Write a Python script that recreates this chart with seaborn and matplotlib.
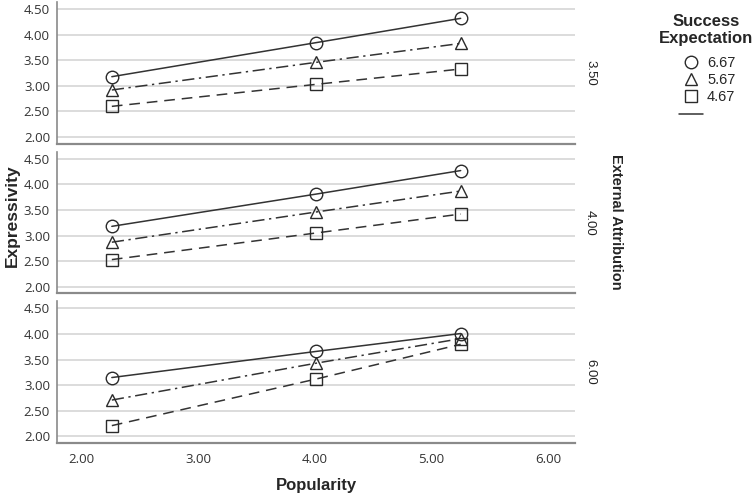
import numpy as np
import pandas as pd
import matplotlib
matplotlib.use("Agg")
import matplotlib.pyplot as plt
import seaborn as sns
from matplotlib.lines import Line2D

# ---------------- data ----------------
popularity = [2.26, 4.01, 5.25]
external_attribution = ["3.50", "4.00", "6.00"]
success_levels = ["6.67", "5.67", "4.67"]

ea350_se667 = [3.18, 3.845, 4.32]
ea350_se567 = [2.92, 3.46, 3.83]
ea350_se467 = [2.60, 3.03, 3.33]

ea400_se667 = [3.18, 3.81, 4.27]
ea400_se567 = [2.87, 3.46, 3.87]
ea400_se467 = [2.53, 3.05, 3.42]

ea600_se667 = [3.15, 3.66, 4.01]
ea600_se567 = [2.71, 3.43, 3.91]
ea600_se467 = [2.21, 3.12, 3.80]

y_ticks = [2.00, 2.50, 3.00, 3.50, 4.00, 4.50]
x_ticks = [2.00, 3.00, 4.00, 5.00, 6.00]

series = {
    ("3.50", "6.67"): ea350_se667, ("3.50", "5.67"): ea350_se567, ("3.50", "4.67"): ea350_se467,
    ("4.00", "6.67"): ea400_se667, ("4.00", "5.67"): ea400_se567, ("4.00", "4.67"): ea400_se467,
    ("6.00", "6.67"): ea600_se667, ("6.00", "5.67"): ea600_se567, ("6.00", "4.67"): ea600_se467,
}
rows = []
for (ea, se), vals in series.items():
    for x, y in zip(popularity, vals):
        rows.append({"External Attribution": ea, "Success Expectation": se,
                     "Popularity": x, "Expressivity": y})
df = pd.DataFrame(rows)

# ---------------- style ----------------
sns.set_style("white")
plt.rcParams["font.family"] = ["Liberation Sans", "DejaVu Sans"]

line_col = "#333333"
markers = {"6.67": "o", "5.67": "^", "4.67": "s"}
dashes = {"6.67": "", "5.67": (8, 3, 1.5, 3), "4.67": (7, 4.5)}

fig, axes = plt.subplots(3, 1, figsize=(7.54, 4.95), dpi=100, sharex=True)
fig.subplots_adjust(left=0.0756, right=0.7626, top=0.996, bottom=0.105, hspace=0.056)

for ax, ea in zip(axes, external_attribution):
    sub = df[df["External Attribution"] == ea]
    sns.lineplot(data=sub, x="Popularity", y="Expressivity",
                 style="Success Expectation", style_order=success_levels,
                 markers=markers, dashes=dashes, color=line_col, lw=1.1,
                 markersize=9, markerfacecolor="none", markeredgecolor="#2a2a2a",
                 markeredgewidth=1.0, legend=False, errorbar=None, ax=ax)
    ax.set_ylim(1.87, 4.64)
    ax.set_xlim(1.79, 6.23)
    ax.set_yticks(y_ticks)
    ax.set_yticklabels([f"{v:.2f}" for v in y_ticks])
    ax.set_xticks(x_ticks)
    ax.set_xticklabels([f"{v:.2f}" for v in x_ticks])
    ax.yaxis.grid(True, color="#d6d6d6", lw=1.2)
    ax.xaxis.grid(False)
    ax.set_axisbelow(True)
    for s in ["top", "right"]:
        ax.spines[s].set_visible(False)
    ax.spines["left"].set_color("#8a8a8a")
    ax.spines["left"].set_linewidth(1.2)
    ax.spines["bottom"].set_color("#8a8a8a")
    ax.spines["bottom"].set_linewidth(1.6)
    ax.tick_params(length=0, labelsize=9.5, labelcolor="#333333", pad=5)
    for lab in ax.get_yticklabels() + ax.get_xticklabels():
        lab.set_fontfamily("Open Sans")
    ax.set_ylabel("")
    ax.set_xlabel("")
    ax.text(1.029, 0.5, ea, rotation=270, ha="center", va="center",
            fontsize=9.5, color="#222222", transform=ax.transAxes)

axes[-1].tick_params(axis="x", pad=7)
axes[-1].set_xlabel("Popularity", fontsize=12, fontweight="bold", labelpad=9)

fig.text(12 / 754, 1 - 216 / 495, "Expressivity", rotation=90, ha="center", va="center",
         fontsize=12.5, fontweight="bold")
fig.text(616 / 754, 1 - 222 / 495, "External Attribution", rotation=270, ha="center",
         va="center", fontsize=10.5, fontweight="bold")

# legend title
fig.text(706 / 754, 1 - 30 / 495, "Success\nExpectation", ha="center", va="center",
         multialignment="center", fontsize=12, fontweight="bold", linespacing=1.15)

handles = [Line2D([], [], marker=markers[s], ls="none", mfc="none", mec="#2a2a2a",
                  mew=1.0, ms=9) for s in success_levels]
handles.append(Line2D([], [], color=line_col, lw=1.1))
labels = success_levels + [""]
leg = fig.legend(handles, labels, loc="upper center",
                 bbox_to_anchor=(707 / 754, 1 - 56 / 495), frameon=False,
                 fontsize=10.5, handlelength=1.7,
                 handletextpad=0.25, labelspacing=0.22, borderaxespad=0,
                 borderpad=0)

fig.savefig("out.png", dpi=100)
